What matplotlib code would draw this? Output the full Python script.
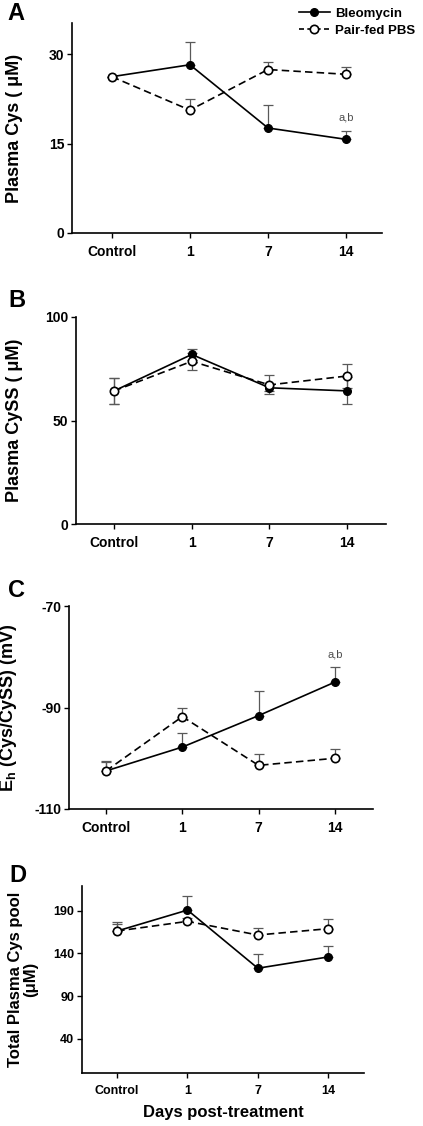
import numpy as np
import matplotlib
matplotlib.use("Agg")
import matplotlib.pyplot as plt
from matplotlib.lines import Line2D

plt.rcParams['font.family'] = ['Liberation Sans', 'DejaVu Sans']
plt.rcParams['font.weight'] = 'bold'
plt.rcParams['axes.unicode_minus'] = False
plt.rcParams['mathtext.fontset'] = 'custom'
plt.rcParams['mathtext.rm'] = 'Liberation Sans:bold'
plt.rcParams['mathtext.it'] = 'Liberation Sans:bold'
plt.rcParams['mathtext.bf'] = 'Liberation Sans:bold'

categories = ["Control", "1", "7", "14"]
series_names = ["Bleomycin", "Pair-fed PBS"]

# Panel A: Plasma Cys (uM)
a_bleo = [26.2, 28.2, 17.6, 15.7]
a_bleo_err = [0.0, 3.8, 3.8, 1.4]
a_pbs = [26.2, 20.6, 27.4, 26.6]
a_pbs_err = [0.0, 1.9, 1.2, 1.2]

# Panel B: Plasma CySS (uM), two-sided error
b_bleo = [64.3, 81.9, 65.8, 64.3]
b_bleo_err = [6.3, 2.5, 1.5, 6.5]
b_pbs = [64.3, 78.6, 67.2, 71.5]
b_pbs_err = [6.3, 4.0, 4.6, 5.7]

# Panel C: Eh (Cys/CySS) (mV)
c_bleo = [-102.5, -97.8, -91.6, -85.0]
c_bleo_err = [1.8, 2.7, 4.8, 2.9]
c_pbs = [-102.5, -91.8, -101.4, -100.0]
c_pbs_err = [2.0, 1.8, 2.2, 1.8]

# Panel D: Total plasma Cys pool (uM)
d_bleo = [166.3, 190.8, 122.7, 135.9]
d_bleo_err = [8.0, 16.7, 16.3, 13.2]
d_pbs = [166.3, 177.6, 161.6, 169.0]
d_pbs_err = [10.1, 4.0, 7.8, 11.6]

W, H = 423, 1126
fig = plt.figure(figsize=(W / 100, H / 100), dpi=100)

def rect(l, r, t, b):
    return [l / W, 1 - b / H, (r - l) / W, (b - t) / H]

panels = [
    dict(rect=rect(72, 382, 23, 233), ylim=(0, 35.2), yticks=[0, 15, 30],
         xlim=(-0.51, 3.46), bleo=a_bleo, be=a_bleo_err, pbs=a_pbs, pe=a_pbs_err,
         two=False, ylabel="Plasma Cys ( \u03bcM)", letter="A", lxy=(7, 20),
         ann=(3, 18.6), fs=10, ylfs=13, labx=-0.158),
    dict(rect=rect(76, 386, 317, 524), ylim=(0, 100), yticks=[0, 50, 100],
         xlim=(-0.49, 3.5), bleo=b_bleo, be=b_bleo_err, pbs=b_pbs, pe=b_pbs_err,
         two=True, ylabel="Plasma CySS ( \u03bcM)", letter="B", lxy=(8, 307),
         ann=None, fs=10, ylfs=13, labx=-0.171),
    dict(rect=rect(69, 373, 606, 809), ylim=(-110, -70), yticks=[-110, -90, -70],
         xlim=(-0.485, 3.5), bleo=c_bleo, be=c_bleo_err, pbs=c_pbs, pe=c_pbs_err,
         two=False, ylabel=r"$\mathrm{E_h}$ (Cys/CySS) (mV)", letter="C", lxy=(8, 597),
         ann=(3, -80.6), fs=10, ylfs=13, labx=-0.163),
    dict(rect=rect(82, 364, 886, 1073), ylim=(0, 219), yticks=[40, 90, 140, 190],
         xlim=(-0.5, 3.51), bleo=d_bleo, be=d_bleo_err, pbs=d_pbs, pe=d_pbs_err,
         two=False, ylabel="Total Plasma Cys pool\n(\u03bcM)", letter="D", lxy=(9, 882),
         ann=None, fs=9, ylfs=12, labx=-0.156),
]

x = np.arange(len(categories))
errc = '0.35'
for p in panels:
    ax = fig.add_axes(p["rect"])
    for s in ["top", "right"]:
        ax.spines[s].set_visible(False)
    for s in ["left", "bottom"]:
        ax.spines[s].set_linewidth(1.2)
    if p["two"]:
        be = p["be"]
        pe = p["pe"]
    else:
        be = [np.zeros(len(x)), p["be"]]
        pe = [np.zeros(len(x)), p["pe"]]
    ax.errorbar(x, p["bleo"], yerr=be, fmt='none', ecolor=errc, elinewidth=0.9,
                capsize=3.3, capthick=0.9, zorder=2)
    ax.errorbar(x, p["pbs"], yerr=pe, fmt='none', ecolor=errc, elinewidth=0.9,
                capsize=3.3, capthick=0.9, zorder=2)
    ax.plot(x, p["bleo"], color='black', lw=1.2, marker='o', ms=5.5,
            mfc='black', mec='black', zorder=3)
    ax.plot(x, p["pbs"], color='black', lw=1.2, ls=(0, (4.5, 2.5)), marker='o', ms=6,
            mfc='white', mec='black', mew=1.2, zorder=4)
    ax.set_xlim(*p["xlim"])
    ax.set_ylim(*p["ylim"])
    ax.set_yticks(p["yticks"])
    ax.set_xticks(x)
    ax.set_xticklabels(categories)
    ax.tick_params(axis='both', direction='out', length=3.5, width=1.0,
                   labelsize=p["fs"])
    ax.tick_params(axis='x', pad=5)
    ax.tick_params(axis='y', pad=2)
    for lab in ax.get_xticklabels() + ax.get_yticklabels():
        lab.set_fontweight('bold')
    ax.set_ylabel(p["ylabel"], fontsize=p["ylfs"], fontweight='bold',
                  linespacing=1.0)
    ax.yaxis.set_label_coords(p["labx"], 0.5)
    if p["ann"] is not None:
        ax.text(p["ann"][0], p["ann"][1], "a,b", ha='center', va='bottom',
                fontsize=8, fontweight='normal', color='0.3')
    fig.text(p["lxy"][0] / W, 1 - p["lxy"][1] / H, p["letter"], fontsize=17,
             fontweight='bold', ha='left', va='baseline')
    p["ax"] = ax

panels[3]["ax"].set_xlabel("Days post-treatment", fontsize=12, fontweight='bold',
                           labelpad=6)

handles = [
    Line2D([], [], color='black', lw=1.2, marker='o', ms=5.5, mfc='black'),
    Line2D([], [], color='black', lw=1.2, ls=(0, (3, 2)), marker='o', ms=6,
           mfc='white', mew=1.2),
]
fig.legend(handles, series_names, loc='upper left',
           bbox_to_anchor=(292 / W, 1 - 1 / H), frameon=False, borderpad=0,
           handlelength=2.4, handletextpad=0.35, labelspacing=0.35,
           prop={'weight': 'bold', 'size': 9.5})

fig.savefig("out.png", dpi=100)
